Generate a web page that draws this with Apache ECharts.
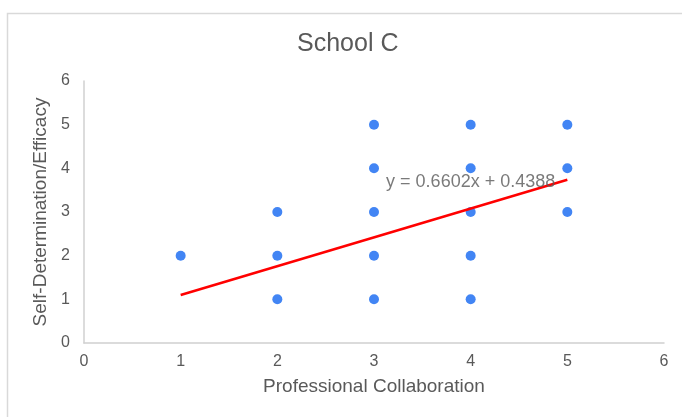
<!DOCTYPE html>
<html>
<head>
<meta charset="utf-8">
<script src="https://cdn.jsdelivr.net/npm/echarts@6/dist/echarts.min.js"></script>
<style>
html,body{margin:0;padding:0;background:#fff;}
#c{width:682px;height:417px;}
</style>
</head>
<body>
<div id="c"></div>
<script>
var titleText = 'School C';
var xName = 'Professional Collaboration';
var yName = 'Self-Determination/Efficacy';
var pointsX = [1, 2, 2, 2, 3, 3, 3, 3, 3, 4, 4, 4, 4, 4, 5, 5, 5];
var pointsY = [2, 3, 2, 1, 5, 4, 3, 2, 1, 5, 4, 3, 2, 1, 5, 4, 3];
var trendX = [1, 5];
var trendY = [1.099, 3.7398];
var equationText = 'y = 0.6602x + 0.4388';
var equationAt = [4.0, 3.69];
var xTicks = [0, 1, 2, 3, 4, 5, 6];
var yTicks = [0, 1, 2, 3, 4, 5, 6];

var scatterData = pointsX.map(function (x, i) { return [x, pointsY[i]]; });
var trendData = trendX.map(function (x, i) { return [x, trendY[i]]; });

var txt = '#595959';
var font = 'Liberation Sans, Arial, sans-serif';
var chart = echarts.init(document.getElementById('c'));
chart.setOption({
  animation: false,
  backgroundColor: '#fff',
  title: {
    text: titleText, left: 292, top: 27,
    textStyle: { color: txt, fontSize: 25, fontWeight: 'normal', fontFamily: font }
  },
  graphic: [{
    type: 'rect', shape: { x: 7.5, y: 13.5, width: 700, height: 430 },
    style: { fill: 'none', stroke: '#d9d9d9', lineWidth: 1.5 }, silent: true
  }],
  grid: { left: 84, right: 18, top: 81, bottom: 74 },
  xAxis: {
    type: 'value', min: xTicks[0], max: xTicks[xTicks.length - 1], interval: 1,
    name: xName, nameLocation: 'middle', nameGap: 34,
    nameTextStyle: { color: txt, fontSize: 19, fontFamily: font },
    axisLine: { show: true, lineStyle: { color: '#d0d0d0', width: 1.5 } },
    axisTick: { show: false }, splitLine: { show: false },
    axisLabel: { color: txt, fontSize: 16, fontFamily: font, margin: 11 }
  },
  yAxis: {
    type: 'value', min: yTicks[0], max: yTicks[yTicks.length - 1], interval: 1,
    name: yName, nameLocation: 'middle', nameGap: 31,
    nameTextStyle: { color: txt, fontSize: 19, fontFamily: font },
    axisLine: { show: true, lineStyle: { color: '#d0d0d0', width: 1.5 } },
    axisTick: { show: false }, splitLine: { show: false },
    axisLabel: { color: txt, fontSize: 16, fontFamily: font, margin: 14 }
  },
  series: [{
    type: 'scatter', data: scatterData, symbol: 'circle', symbolSize: 10,
    itemStyle: { color: '#4285F4', opacity: 1 }, z: 2
  }, {
    type: 'line', data: trendData, symbol: 'none', z: 3,
    lineStyle: { color: '#ff0000', width: 2.5 }
  }, {
    type: 'scatter', data: [equationAt], symbol: 'circle', symbolSize: 1, z: 4,
    itemStyle: { color: 'rgba(0,0,0,0)' }, silent: true,
    label: { show: true, position: 'inside', formatter: equationText, color: txt, fontSize: 18, fontFamily: font }
  }]
});
</script>
</body>
</html>
